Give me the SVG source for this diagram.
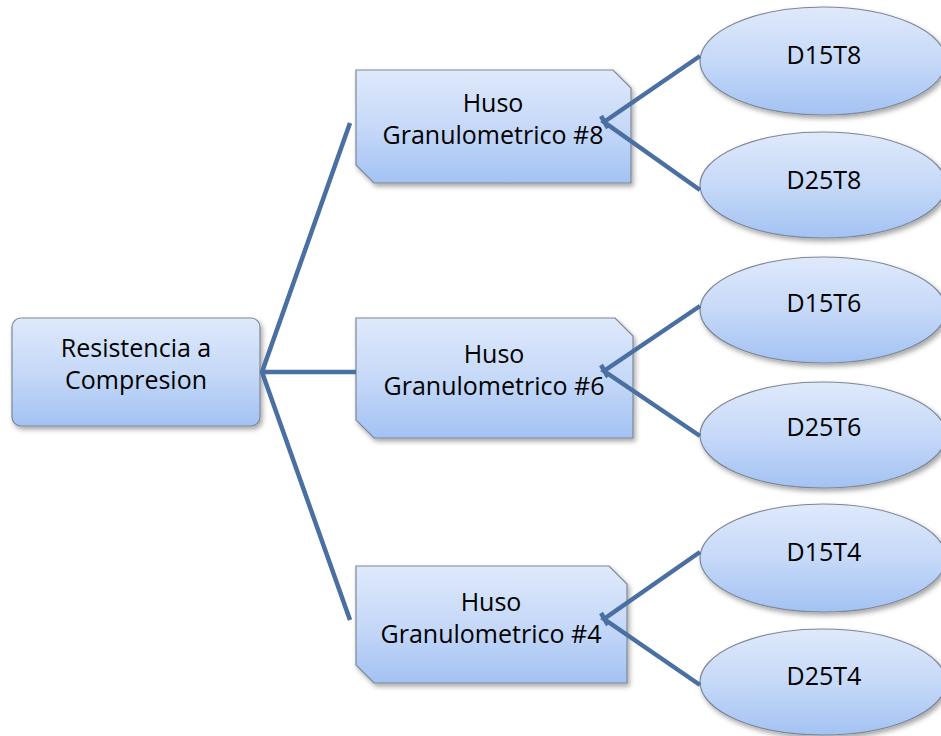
<svg xmlns="http://www.w3.org/2000/svg" width="941" height="736" viewBox="0 0 941 736">
<defs>
<linearGradient id="g" x1="0" y1="0" x2="0" y2="1">
<stop offset="0" stop-color="#dfe9fb"/>
<stop offset="0.5" stop-color="#c6d9f8"/>
<stop offset="1" stop-color="#a3c2f3"/>
</linearGradient>
<filter id="sh" x="-10%" y="-10%" width="125%" height="130%">
<feDropShadow dx="2" dy="3" stdDeviation="2.5" flood-color="#000" flood-opacity="0.35"/>
</filter>
<style>
.n{fill:url(#g);stroke:#7d8797;stroke-width:1.2;filter:url(#sh)}
.t{font-family:"Open Sans","Liberation Sans",sans-serif;font-size:25px;fill:#000;text-anchor:middle}
.c{stroke:#4a6fa3;stroke-width:4.5;fill:none}
</style>
</defs>
<g id="root">
<rect class="n" x="12" y="318" width="248" height="108" rx="9"/>
<text class="t" x="136" y="357">Resistencia a</text>
<text class="t" x="136" y="389">Compresion</text>
</g>
<g id="huso8">
<path class="n" d="M356,70 H613 L631,88 V183 H374 L356,165 Z"/>
<text class="t" x="493" y="112">Huso</text>
<text class="t" x="493" y="144">Granulometrico #8</text>
</g>
<g id="huso6">
<path class="n" d="M356,318 H615 L633,336 V438 H374 L356,420 Z"/>
<text class="t" x="494" y="363">Huso</text>
<text class="t" x="494" y="395">Granulometrico #6</text>
</g>
<g id="huso4">
<path class="n" d="M356,566 H609 L627,584 V683 H374 L356,665 Z"/>
<text class="t" x="491" y="611">Huso</text>
<text class="t" x="491" y="643">Granulometrico #4</text>
</g>
<g id="d15t8"><ellipse class="n" cx="823" cy="61" rx="123" ry="54"/><text class="t" x="824" y="64">D15T8</text></g>
<g id="d25t8"><ellipse class="n" cx="823" cy="185" rx="123" ry="53"/><text class="t" x="824" y="189">D25T8</text></g>
<g id="d15t6"><ellipse class="n" cx="823" cy="310" rx="123" ry="53"/><text class="t" x="824" y="312">D15T6</text></g>
<g id="d25t6"><ellipse class="n" cx="823" cy="435" rx="123" ry="53"/><text class="t" x="824" y="436">D25T6</text></g>
<g id="d15t4"><ellipse class="n" cx="823" cy="558" rx="123" ry="54"/><text class="t" x="824" y="561">D15T4</text></g>
<g id="d25t4"><ellipse class="n" cx="823" cy="682" rx="123" ry="53"/><text class="t" x="824" y="685">D25T4</text></g>
<g id="connectors">
<path class="c" d="M350,123 L262,372 L350,620 M262,372 H356"/>
<path class="c" d="M700,56 L604,122 L700,190 M601,116 L608,128"/>
<path class="c" d="M700,306 L604,371 L700,436 M601,365 L608,377"/>
<path class="c" d="M700,552 L604,619 L700,685 M601,613 L608,625"/>
</g>
</svg>
